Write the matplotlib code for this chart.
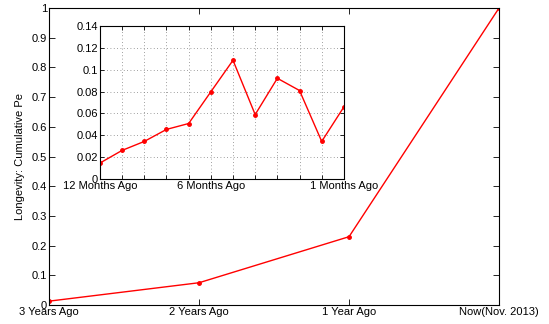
import matplotlib
matplotlib.use('Agg')
import matplotlib.pyplot as plt

plt.rcParams['font.family'] = ['Liberation Sans', 'DejaVu Sans']
plt.rcParams['font.size'] = 8

# yearly cumulative values
year_labels = ['3 Years Ago', '2 Years Ago', '1 Year Ago', 'Now(Nov. 2013)']
year_values = [0.013, 0.075, 0.23, 1.0]

# monthly values over the last year
month_values = [0.0146, 0.0262, 0.0344, 0.0454, 0.0508, 0.0798,
                0.1087, 0.059, 0.0922, 0.081, 0.0344, 0.066]
month_tick_pos = [0, 5, 11]
month_tick_labels = ['12 Months Ago', '6 Months Ago', '1 Months Ago']

fig = plt.figure(figsize=(5.49, 3.24), dpi=100)

ax = fig.add_axes([0.0893, 0.0586, 0.8197, 0.9167])
ax.plot(range(len(year_values)), year_values, color='red', lw=1.0, marker='.', ms=5)
ax.set_xlim(0, len(year_values) - 1)
ax.set_ylim(0, 1)
ax.set_xticks(range(len(year_labels)))
ax.set_xticklabels(year_labels)
ax.set_yticks([i / 10 for i in range(11)])
ax.set_yticklabels(['0'] + [f'{i / 10:g}' for i in range(1, 10)] + ['1'])
ax.tick_params(direction='in', top=True, right=True, length=4, width=0.6, pad=1.5)
ax.set_ylabel('Longevity: Cumulative Pe', labelpad=5)
for s in ax.spines.values():
    s.set_linewidth(0.8)

ins = fig.add_axes([0.182, 0.4475, 0.4444, 0.472])
ins.plot(range(len(month_values)), month_values, color='red', lw=1.0, marker='.', ms=5)
ins.set_xlim(0, len(month_values) - 1)
ins.set_ylim(0, 0.14)
ins.set_xticks(range(len(month_values)))
ins.set_xticklabels(['' if i not in month_tick_pos else month_tick_labels[month_tick_pos.index(i)]
                     for i in range(len(month_values))])
ins.set_yticks([i * 0.02 for i in range(8)])
ins.set_yticklabels(['0'] + [f'{i * 0.02:g}' for i in range(1, 8)])
ins.grid(True, linestyle=(0, (1, 3)), color='0.5', lw=0.6)
ins.tick_params(direction='in', top=True, right=True, length=3, width=0.6, pad=1.5)
for s in ins.spines.values():
    s.set_linewidth(0.8)

fig.savefig('out.png', dpi=100)
